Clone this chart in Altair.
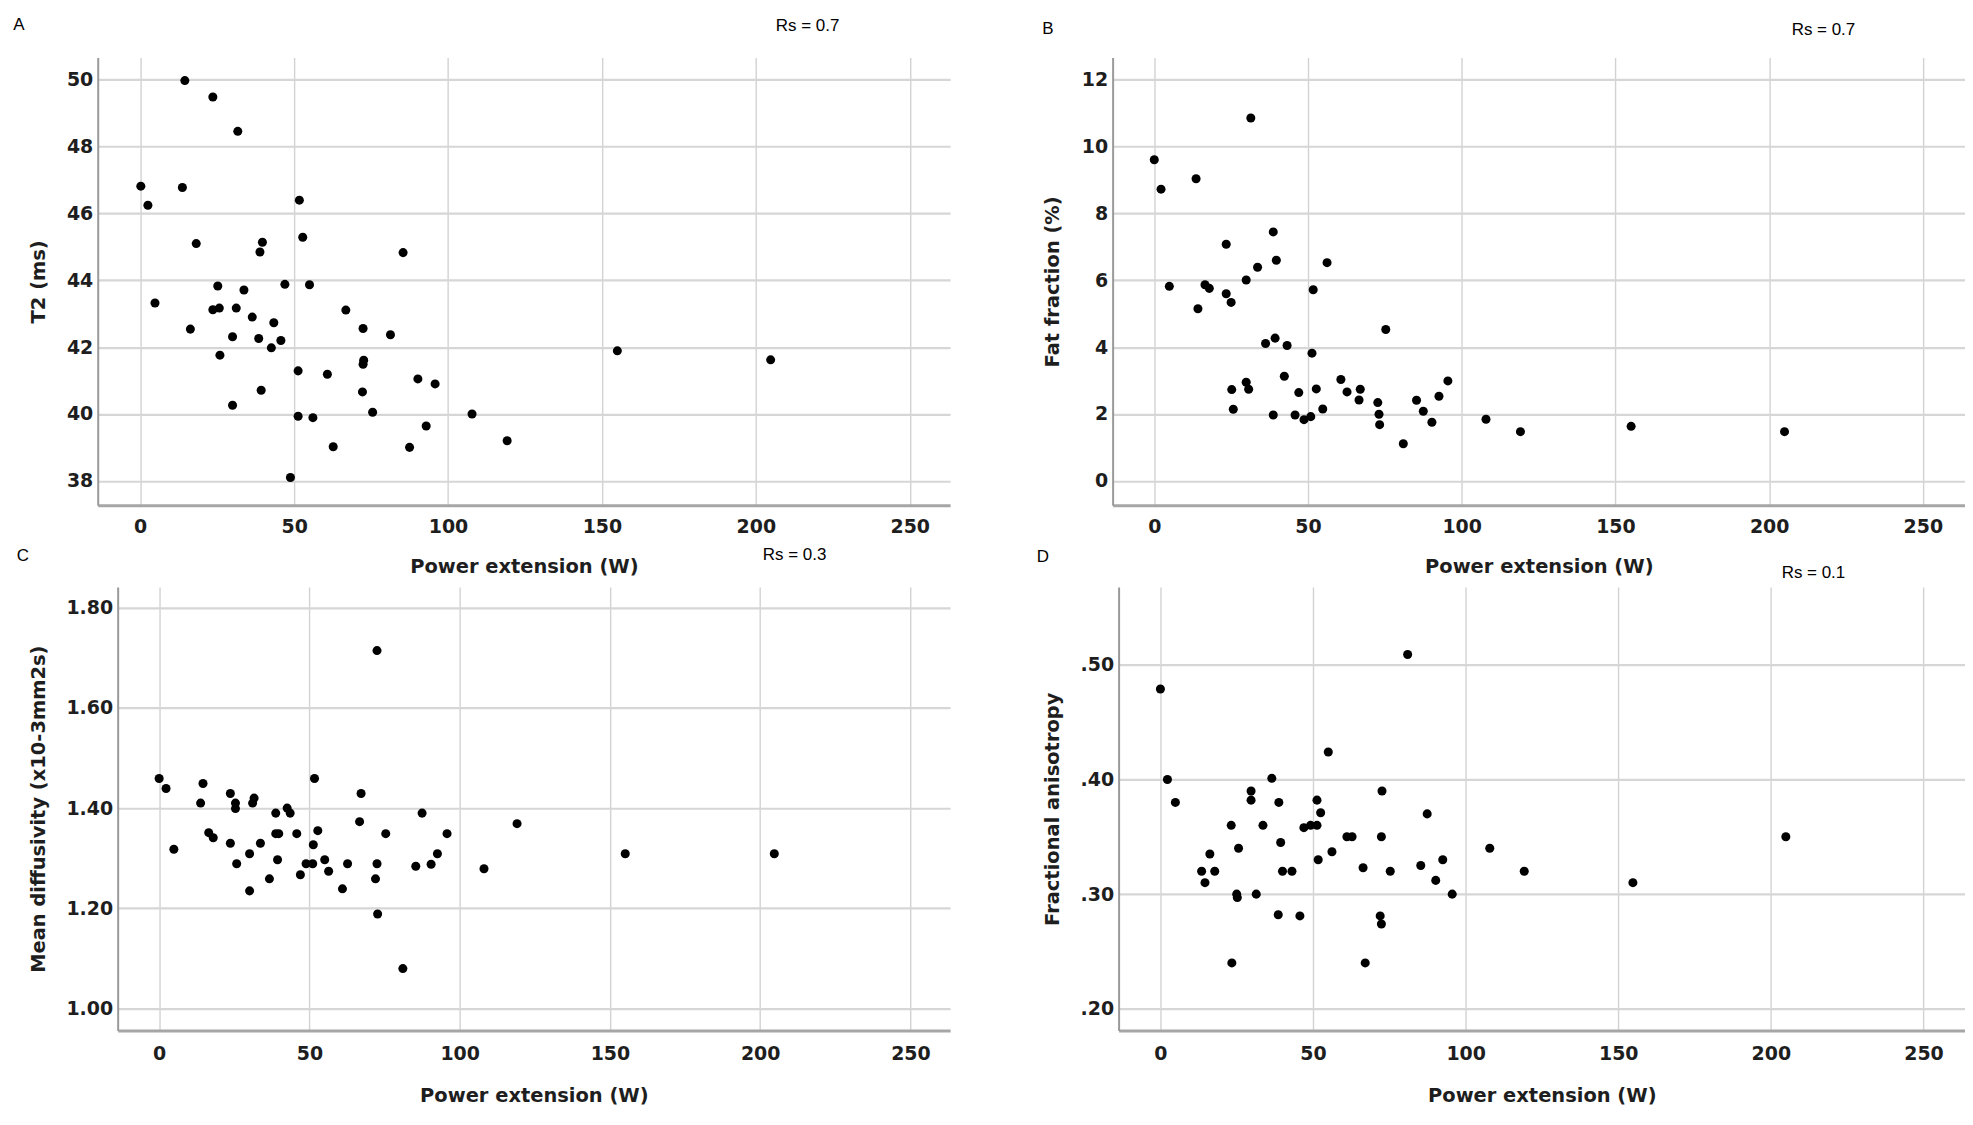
import altair as alt
import pandas as pd

# ---------------- data ----------------
x_ticks = [0, 50, 100, 150, 200, 250]
x_title = "Power extension (W)"

a_x = [14.5, 23.6, 31.7, 0.2, 13.7, 2.5, 51.7, 52.8, 18.2, 39.7, 38.9, 85.4, 25.2, 47.0, 55.0, 33.7,
       4.8, 23.6, 25.7, 31.2, 66.8, 36.4, 43.4, 16.3, 72.4, 81.3, 30.0, 38.5, 45.7, 42.6, 25.9, 155.0,
       204.8, 72.6, 72.4, 51.3, 60.8, 90.2, 95.8, 39.3, 72.2, 30.0, 75.5, 107.8, 51.3, 56.1, 92.9,
       62.7, 87.5, 119.2, 48.8]
a_y = [49.98, 49.49, 48.46, 46.82, 46.78, 46.25, 46.40, 45.29, 45.10, 45.14, 44.85, 44.83, 43.83,
       43.88, 43.87, 43.71, 43.32, 43.12, 43.17, 43.17, 43.11, 42.90, 42.73, 42.54, 42.56, 42.37,
       42.31, 42.26, 42.20, 41.98, 41.76, 41.89, 41.62, 41.61, 41.49, 41.29, 41.19, 41.05, 40.90,
       40.71, 40.66, 40.26, 40.05, 40.00, 39.93, 39.89, 39.64, 39.02, 39.00, 39.20, 38.10]
a_yticks = [38, 40, 42, 44, 46, 48, 50]

b_x = [31.4, 0.0, 2.2, 13.6, 38.7, 23.4, 39.7, 56.2, 33.6, 29.9, 4.9, 16.5, 17.9, 51.7, 23.4, 25.0,
       14.2, 75.3, 39.3, 36.2, 43.2, 51.3, 42.3, 60.7, 95.5, 29.9, 30.7, 25.2, 52.7, 67.0, 62.7, 47.0,
       92.6, 66.6, 85.3, 72.7, 87.5, 25.7, 54.8, 73.1, 38.7, 45.8, 50.9, 48.7, 107.9, 90.3, 73.3,
       155.1, 119.1, 205.0, 81.0]
b_y = [10.86, 9.61, 8.73, 9.04, 7.45, 7.08, 6.60, 6.53, 6.39, 6.01, 5.82, 5.87, 5.76, 5.72, 5.60,
       5.34, 5.15, 4.53, 4.27, 4.11, 4.05, 3.82, 3.13, 3.03, 2.99, 2.95, 2.74, 2.73, 2.75, 2.74, 2.66,
       2.64, 2.53, 2.42, 2.41, 2.34, 2.08, 2.14, 2.15, 1.99, 1.97, 1.97, 1.92, 1.83, 1.84, 1.75, 1.68,
       1.63, 1.47, 1.47, 1.11]
b_yticks = [0, 2, 4, 6, 8, 10, 12]

c_x = [72.5, 0.0, 51.7, 2.3, 14.6, 23.7, 67.2, 13.8, 25.4, 31.6, 31.1, 25.4, 42.6, 43.6, 38.8, 87.5,
       66.7, 119.1, 16.5, 18.0, 38.8, 39.8, 45.8, 52.8, 75.4, 95.8, 23.7, 33.7, 51.3, 4.9, 30.1, 92.6,
       155.1, 204.7, 39.4, 55.1, 25.8, 48.9, 51.1, 62.7, 72.5, 85.4, 90.5, 56.4, 108.1, 47.0, 36.7,
       72.0, 61.0, 30.1, 72.7, 81.1]
c_y = [1.714, 1.459, 1.459, 1.439, 1.449, 1.429, 1.429, 1.410, 1.410, 1.420, 1.410, 1.399, 1.400,
       1.390, 1.390, 1.390, 1.373, 1.369, 1.351, 1.341, 1.349, 1.349, 1.349, 1.355, 1.349, 1.349,
       1.330, 1.330, 1.327, 1.318, 1.309, 1.309, 1.309, 1.309, 1.297, 1.297, 1.289, 1.289, 1.289,
       1.289, 1.289, 1.284, 1.288, 1.274, 1.279, 1.267, 1.259, 1.259, 1.239, 1.235, 1.189, 1.080]
c_yticks = [1.0, 1.2, 1.4, 1.6, 1.8]

d_x = [81.0, 0.0, 55.0, 2.3, 36.5, 29.7, 72.6, 4.9, 29.7, 38.8, 51.3, 52.5, 87.4, 23.2, 33.6, 47.0,
       49.2, 51.3, 61.1, 62.8, 72.4, 204.9, 39.4, 25.6, 107.9, 56.2, 16.2, 51.7, 92.5, 66.4, 85.3,
       13.5, 17.8, 40.0, 43.1, 75.3, 119.2, 14.6, 90.2, 154.8, 25.0, 25.2, 31.4, 95.6, 38.6, 45.7,
       72.0, 72.4, 23.4, 67.1]
d_y = [0.509, 0.479, 0.424, 0.400, 0.401, 0.390, 0.390, 0.380, 0.382, 0.380, 0.382, 0.371, 0.370,
       0.360, 0.360, 0.358, 0.360, 0.360, 0.350, 0.350, 0.350, 0.350, 0.345, 0.340, 0.340, 0.337,
       0.335, 0.330, 0.330, 0.323, 0.325, 0.320, 0.320, 0.320, 0.320, 0.320, 0.320, 0.310, 0.312,
       0.310, 0.300, 0.297, 0.300, 0.300, 0.282, 0.281, 0.281, 0.274, 0.240, 0.240]
d_yticks = [0.2, 0.3, 0.4, 0.5]

panel_letters = ["A", "B", "C", "D"]
rs_labels = ["Rs = 0.7", "Rs = 0.7", "Rs = 0.3", "Rs = 0.1"]
y_titles = ["T2 (ms)", "Fat fraction (%)", "Mean diffusivity (x10-3mm2s)", "Fractional anisotropy"]

# ---------------- styling ----------------
TXT = "#1e1e1e"
AX_FONT = "DejaVu Sans"
LBL_FONT = "Liberation Sans"


def panel(xs, ys, ytitle, letter, rs, *, width, height, xdomain, xrange, ydomain, yticks,
          ylabel_expr, yoffset, ytitle_x, xtitle_y, xlabel_pad, letter_pos, rs_pos):
    df = pd.DataFrame({"x": xs, "y": ys})
    pts = alt.Chart(df).mark_circle(size=82, color="#000000", opacity=1).encode(
        x=alt.X("x:Q",
                scale=alt.Scale(domain=xdomain, range=xrange, nice=False, zero=False),
                axis=alt.Axis(title=x_title, values=x_ticks, format="d",
                              grid=True, gridColor="#d2d2d2", gridWidth=1.4,
                              domainColor="#a6a6a6", domainWidth=3,
                              ticks=False, tickSize=0, labelFlush=False, labelOverlap=False,
                              labelFont=AX_FONT, labelFontWeight="bold", labelFontSize=19,
                              labelColor=TXT, labelPadding=xlabel_pad,
                              titleFont=AX_FONT, titleFontWeight="bold", titleFontSize=19.5,
                              titleColor=TXT, titleY=xtitle_y, titleBaseline="middle")),
        y=alt.Y("y:Q",
                scale=alt.Scale(domain=ydomain, nice=False, zero=False),
                axis=alt.Axis(title=ytitle, values=yticks, labelExpr=ylabel_expr,
                              grid=True, gridColor="#d6d6d6", gridWidth=2.2,
                              domainColor="#9a9a9a", domainWidth=2,
                              ticks=False, tickSize=0, labelFlush=False, labelOverlap=False,
                              labelFont=AX_FONT, labelFontWeight="bold", labelFontSize=19,
                              labelColor=TXT, labelPadding=5, offset=yoffset,
                              titleFont=AX_FONT, titleFontWeight="bold", titleFontSize=19.5,
                              titleColor=TXT, titleAngle=270, titleX=ytitle_x,
                              titleY=height / 2, titleBaseline="middle")),
    )
    lab = alt.Chart(pd.DataFrame({"t": [letter]})).mark_text(
        font=LBL_FONT, fontSize=17, color="#000000", align="center", baseline="middle"
    ).encode(x=alt.value(letter_pos[0]), y=alt.value(letter_pos[1]), text="t:N")
    rst = alt.Chart(pd.DataFrame({"t": [rs]})).mark_text(
        font=LBL_FONT, fontSize=17, color="#000000", align="center", baseline="middle"
    ).encode(x=alt.value(rs_pos[0]), y=alt.value(rs_pos[1]), text="t:N")
    return alt.layer(pts, lab, rst).properties(width=width, height=height)


int_fmt = "format(datum.value, 'd')"

A = panel(a_x, a_y, y_titles[0], panel_letters[0], rs_labels[0],
          width=855, height=449, xdomain=[-13.8, 263.1], xrange=[0, 855],
          ydomain=[37.27, 50.67], yticks=a_yticks, ylabel_expr=int_fmt, yoffset=0,
          ytitle_x=-59.5, xtitle_y=62, xlabel_pad=12, letter_pos=(-79, -33), rs_pos=(712, -32))

B = panel(b_x, b_y, y_titles[1], panel_letters[1], rs_labels[1],
          width=855, height=449, xdomain=[-13.55, 263.7], xrange=[0, 855],
          ydomain=[-0.73, 12.67], yticks=b_yticks, ylabel_expr=int_fmt, yoffset=0,
          ytitle_x=-60.5, xtitle_y=62, xlabel_pad=12, letter_pos=(-65, -29), rs_pos=(713, -28))

C = panel(c_x, c_y, y_titles[2], panel_letters[2], rs_labels[2],
          width=855, height=445, xdomain=[-13.8, 263.2], xrange=[20, 855],
          ydomain=[0.9565, 1.841], yticks=c_yticks, ylabel_expr="format(datum.value, '.2f')",
          yoffset=-20, ytitle_x=-79.5, xtitle_y=65, xlabel_pad=14,
          letter_pos=(-75, -31), rs_pos=(699, -32))

D = panel(d_x, d_y, y_titles[3], panel_letters[3], rs_labels[3],
          width=855, height=445, xdomain=[-13.7, 263.6], xrange=[6, 855],
          ydomain=[0.181, 0.568], yticks=d_yticks,
          ylabel_expr="substring(format(datum.value, '.2f'), 1)",
          yoffset=-6, ytitle_x=-66.5, xtitle_y=65, xlabel_pad=14,
          letter_pos=(-70, -30), rs_pos=(703, -14))

chart = alt.concat(A, B, C, D, columns=2, spacing={"row": 82, "column": 163},
                   bounds="flush").properties(
    padding={"left": 5, "top": 6, "right": 0, "bottom": 0},
    background="#ffffff",
).configure_view(strokeWidth=0)

chart.save("out.html", embed_options={"renderer": "svg", "actions": False})
